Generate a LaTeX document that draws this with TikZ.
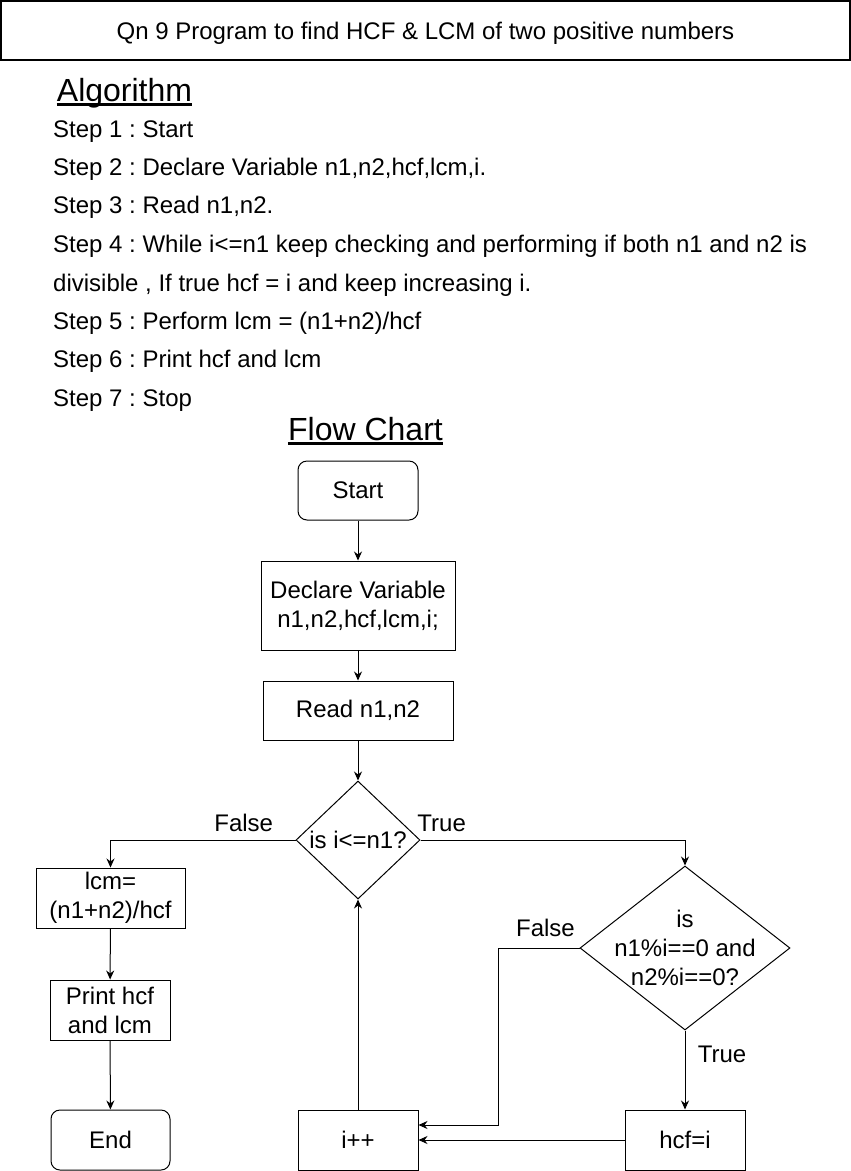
\documentclass[tikz,border=0pt]{standalone}
\usepackage{fontspec}
\setmainfont{Liberation Sans}
\usetikzlibrary{shapes.geometric,arrows.meta}
\frenchspacing

\begin{document}
\begin{tikzpicture}[x=1pt,y=-1pt,
  font=\fontsize{24}{29}\selectfont,
  box/.style={draw,line width=1pt,align=center,inner sep=2pt},
  term/.style={box,rounded corners=9pt},
  decision/.style={draw,line width=1pt,diamond,inner sep=0pt},
  arr/.style={line width=1pt,-{Stealth[length=9pt,width=8pt]}},
  heading/.style={font=\fontsize{32}{38}\selectfont,anchor=base,inner sep=0pt},
  steptext/.style={anchor=base west,inner sep=0pt}]
  \useasboundingbox (0,0) rectangle (851,1171);
  % title and algorithm
  \node[draw,line width=1.3pt,minimum width=849,minimum height=59,text depth=0pt] (title) at (425.5,30.5) {Qn 9 Program to find HCF \& LCM of two positive numbers};
  \node[heading] (algo) at (124.5,101) {Algorithm};
  \draw[line width=2.5pt] ([yshift=-3.5pt]algo.base west) -- ([yshift=-3.5pt]algo.base east);
  \node[steptext] (s1) at (53,137) {Step 1 : Start};
  \node[steptext] (s2) at (53,175) {Step 2 : Declare Variable n1,n2,hcf,lcm,i.};
  \node[steptext] (s3) at (53,213) {Step 3 : Read n1,n2.};
  \node[steptext] (s4) at (53,252) {Step 4 : While i<=n1 keep checking and performing if both n1 and n2 is};
  \node[steptext] (s4b) at (53,291) {divisible , If true hcf = i and keep increasing i.};
  \node[steptext] (s5) at (53,329) {Step 5 : Perform lcm = (n1+n2)/hcf};
  \node[steptext] (s6) at (53,367) {Step 6 : Print hcf and lcm};
  \node[steptext] (s7) at (53,406) {Step 7 : Stop};
  \node[heading] (chart) at (365.5,440) {Flow Chart};
  \draw[line width=2.5pt] ([yshift=-3.5pt]chart.base west) -- ([yshift=-3.5pt]chart.base east);
  % flow chart
  \node[term,minimum width=120,minimum height=59] (start) at (358,490.5) {Start};
  \node[box,minimum width=194,minimum height=89] (decl) at (358,605.5) {Declare Variable\\n1,n2,hcf,lcm,i;};
  \node[box,minimum width=190,minimum height=59] (read) at (358,710.5) {Read n1,n2};
  \node[decision,minimum width=124,minimum height=118,label={center:is i<=n1?}] (cond1) at (358,840) {};
  \node[decision,minimum width=210,minimum height=164,label={[align=center]center:is\\n1\%i==0 and\\n2\%i==0?}] (cond2) at (685,948) {};
  \node[box,minimum width=149,minimum height=60] (lcm) at (110.5,898) {lcm=\\(n1+n2)/hcf};
  \node[box,minimum width=120,minimum height=60] (print) at (110,1010) {Print hcf\\and lcm};
  \node[term,minimum width=119,minimum height=60] (end) at (110.5,1140) {End};
  \node[box,minimum width=120,minimum height=60] (inc) at (358,1140) {i++};
  \node[box,minimum width=120,minimum height=60] (hcf) at (685,1140) {hcf=i};
  % connectors
  \draw[arr] (start) -- (decl);
  \draw[arr] (decl) -- (read);
  \draw[arr] (read) -- (cond1);
  \draw[arr] (cond1.west) -| node[above=4pt,pos=0.14] {False} (lcm.north);
  \draw[arr] (cond1.east) -| node[above=4pt,pos=0.04] {True} (cond2.north);
  \draw[arr] (lcm) -- (print);
  \draw[arr] (print) -- (end);
  \draw[arr] (cond2.south) -- node[right=9pt,pos=0.3] {True} (hcf.north);
  \draw[arr] (cond2.west) -- node[above=7pt,pos=0.42] {False} ++(-81,0) |- ([yshift=15pt]inc.east);
  \draw[arr] (hcf) -- (inc);
  \draw[arr] (inc) -- (cond1);
\end{tikzpicture}
\end{document}
